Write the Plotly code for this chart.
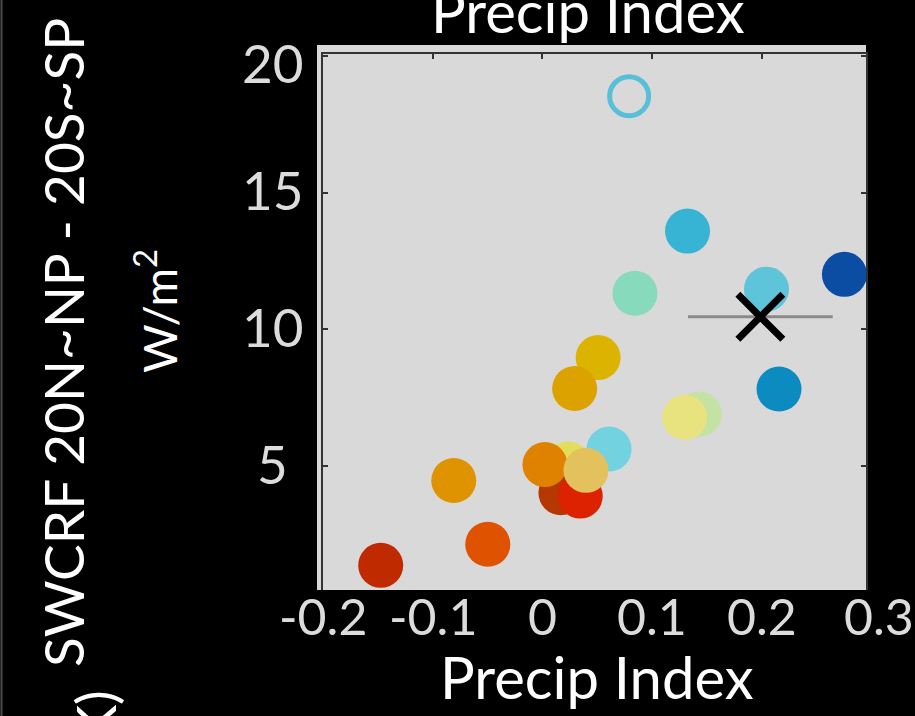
import plotly.graph_objects as go

# Scatter of model SWCRF asymmetry vs precipitation index
precip_index = [0.1323, 0.2753, 0.2043, 0.0844, 0.0508, 0.0294, 0.2157, 0.1430,
                0.1297, -0.0808, -0.0498, -0.1474, 0.0608, 0.0238, 0.0169, 0.0345,
                0.0023, 0.0397]
swcrf_diff = [13.59, 12.01, 11.47, 11.32, 8.97, 7.84, 7.82, 6.91,
              6.79, 4.48, 2.15, 1.38, 5.63, 5.08, 4.03, 3.91,
              5.06, 4.85]
model_colors = ["#37b3d3", "#0a4da3", "#5dc4da", "#87dabb", "#dcb400", "#dca200",
                "#0b8bbf", "#c3e2a3", "#e9e37f", "#df9300", "#df5200", "#c02a00",
                "#72d2df", "#e3dd5d", "#b53800", "#dc2200", "#de8200", "#e3c25e"]

# Observational estimate (open circle)
obs_precip = [0.0791]
obs_swcrf = [18.52]

# Multi-model mean with its spread in precip index
mean_precip = [0.1987]
mean_swcrf = [10.46]
mean_spread = [0.066]

x_ticks = [-0.2, -0.1, 0, 0.1, 0.2, 0.3]
x_ticktext = ["-0.2", "-0.1", "0", "0.1", "0.2", "0.3"]
y_ticks = [20, 15, 10, 5]

X_RANGE = [-0.2, 0.295]
Y_RANGE = [0.48, 20.06]

W, H = 915, 716
ML, MR, MT, MB = 323, 49, 54, 126
PW, PH = W - ML - MR, H - MT - MB

FONT = "Lato"
TICK_COLOR = "#dcdcdc"
AX_COLOR = "#333333"
PANEL = "#d9d9d9"


def px_x(px):
    return (px - ML) / PW


def px_y(py):
    return (H - MB - py) / PH


def xval_paper(v):
    # position of a precip-index value along the plot width
    return (v - X_RANGE[0]) / (X_RANGE[1] - X_RANGE[0])


fig = go.Figure()

fig.add_trace(go.Scatter(
    x=precip_index, y=swcrf_diff, mode="markers",
    marker=dict(size=45, color=model_colors, line=dict(width=0), opacity=1),
    hoverinfo="skip", showlegend=False,
))

fig.add_trace(go.Scatter(
    x=obs_precip, y=obs_swcrf, mode="markers",
    marker=dict(size=39, symbol="circle-open", color="#57c0d8", line=dict(width=5, color="#57c0d8")),
    hoverinfo="skip", showlegend=False,
))

fig.add_trace(go.Scatter(
    x=mean_precip, y=mean_swcrf, mode="markers", xaxis="x2",
    error_x=dict(type="data", array=mean_spread, color="#8a8a8a", thickness=3, width=0),
    marker=dict(size=45, symbol="x-thin", color="black", line=dict(width=7, color="black")),
    hoverinfo="skip", showlegend=False,
))

annotations = []
for v in y_ticks:
    annotations.append(dict(
        x=px_x(272), xref="paper", y=v, yref="y", text=str(v), showarrow=False,
        xanchor="center", yanchor="middle", yshift=-7 if v == 20 else 3,
        font=dict(family=FONT, size=53, color=TICK_COLOR),
    ))

for v, t in zip(x_ticks, x_ticktext):
    annotations.append(dict(
        x=xval_paper(v), xref="paper", y=px_y(590), yref="paper", text=t,
        showarrow=False, xanchor="center", yanchor="top", yshift=6,
        xshift=8 if v == 0.3 else 0,
        font=dict(family=FONT, size=50, color=TICK_COLOR),
    ))

# axis titles
annotations.append(dict(
    x=px_x(588), xref="paper", y=px_y(47), yref="paper", text="Precip Index",
    showarrow=False, xanchor="center", yanchor="bottom",
    font=dict(family=FONT, size=58, color="white"),
))
annotations.append(dict(
    x=px_x(597), xref="paper", y=px_y(640), yref="paper", text="Precip Index",
    showarrow=False, xanchor="center", yanchor="top",
    font=dict(family=FONT, size=58, color="white"),
))
annotations.append(dict(
    x=px_x(63), xref="paper", y=px_y(343), yref="paper", text="SWCRF 20N~NP - 20S~SP",
    showarrow=False, textangle=-90, xanchor="center", yanchor="middle",
    font=dict(family=FONT, size=55, color="white"),
))
annotations.append(dict(
    x=px_x(156), xref="paper", y=px_y(311), yref="paper", text="W/m<sup>2</sup>",
    showarrow=False, textangle=-90, xanchor="center", yanchor="middle",
    font=dict(family=FONT, size=47, color="white"),
))
# neighbouring panel labels at the lower edge
annotations.append(dict(
    x=px_x(95), xref="paper", y=px_y(688), yref="paper", text="(K)",
    showarrow=False, textangle=-90, xanchor="center", yanchor="top",
    font=dict(family=FONT, size=55, color="white"),
))
annotations.append(dict(
    x=px_x(272), xref="paper", y=px_y(703), yref="paper", text="20",
    showarrow=False, xanchor="center", yanchor="top",
    font=dict(family=FONT, size=53, color=TICK_COLOR),
))

shapes = [
    dict(type="rect", xref="paper", yref="paper", x0=px_x(317), x1=1.0,
         y0=0.0, y1=px_y(45), fillcolor=PANEL, line=dict(width=0), layer="below"),
    dict(type="line", xref="paper", yref="paper", x0=px_x(1.5), x1=px_x(1.5),
         y0=px_y(716), y1=px_y(0), line=dict(color="#4a4a4a", width=2)),
]

fig.update_layout(
    width=W, height=H,
    margin=dict(l=ML, r=MR, t=MT, b=MB, pad=0),
    paper_bgcolor="black", plot_bgcolor=PANEL,
    font=dict(family=FONT, color="white"),
    showlegend=False,
    xaxis=dict(
        range=X_RANGE, showticklabels=False,
        showgrid=False, zeroline=False, showline=False, ticks="",
    ),
    xaxis2=dict(
        range=X_RANGE, overlaying="x", side="top", anchor="y",
        tickvals=x_ticks, ticks="inside", ticklen=5, tickwidth=2, tickcolor=AX_COLOR,
        showline=True, linecolor=AX_COLOR, linewidth=2,
        showgrid=False, zeroline=False, showticklabels=False,
    ),
    yaxis=dict(
        range=Y_RANGE, tickvals=y_ticks, showticklabels=False,
        ticks="inside", ticklen=5, tickwidth=2, tickcolor=AX_COLOR, mirror="ticks",
        showline=True, linecolor=AX_COLOR, linewidth=2,
        showgrid=False, zeroline=False,
    ),
    annotations=annotations,
    shapes=shapes,
)

fig.write_html("out.html")
